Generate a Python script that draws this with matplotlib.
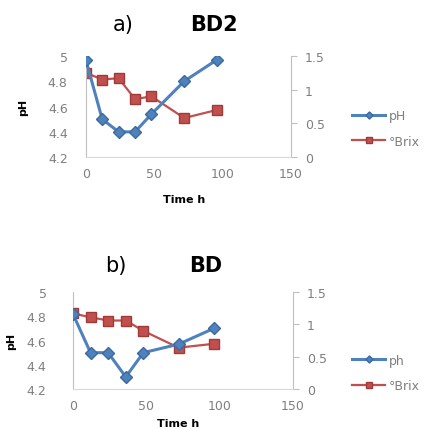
import matplotlib.pyplot as plt

# sampling times (h)
time_h = [0, 12, 24, 36, 48, 72, 96]

# a) BD2
ph_bd2 = [4.97, 4.50, 4.40, 4.40, 4.54, 4.80, 4.97]
brix_bd2 = [1.25, 1.15, 1.17, 0.86, 0.90, 0.58, 0.70]

# b) BD
ph_bd = [4.82, 4.50, 4.50, 4.30, 4.50, 4.57, 4.70]
brix_bd = [1.17, 1.11, 1.06, 1.06, 0.90, 0.64, 0.70]

BLUE = "#4F81BD"
RED = "#C0504D"
GRAY = "#7F7F7F"

fig = plt.figure(figsize=(4.29, 4.31), dpi=100)


def panel(rect, ph, brix, ph_label, letter, name, title_xy, legend_y, lpad, ylab_x, xlab_y):
    ax = fig.add_axes(rect)
    ax2 = ax.twinx()
    ax.plot(time_h, ph, color=BLUE, lw=2.2, marker="D", ms=6,
            mfc=BLUE, mec="#3A6A9E", label=ph_label, zorder=3)
    ax2.plot(time_h, brix, color=RED, lw=1.6, marker="s", ms=7,
             mfc=RED, mec="#A03A38", label="°Brix", zorder=2)
    ax.set_zorder(ax2.get_zorder() + 1)
    ax.patch.set_visible(False)

    ax.set_xlim(0, 150)
    ax.set_ylim(4.2, 5.0)
    ax.set_xticks([0, 50, 100, 150])
    ax.set_yticks([4.2, 4.4, 4.6, 4.8, 5.0])
    ax.set_yticklabels(["4.2", "4.4", "4.6", "4.8", "5"])
    ax2.set_ylim(0, 1.5)
    ax2.set_yticks([0, 0.5, 1.0, 1.5])
    ax2.set_yticklabels(["0", "0.5", "1", "1.5"])

    for a in (ax, ax2):
        for s in a.spines.values():
            s.set_visible(False)
        a.tick_params(labelsize=9, colors=GRAY, length=0, pad=7)
    ax.tick_params(axis="y", pad=lpad)
    ax.spines["left"].set_visible(True)
    ax.spines["left"].set_color("#BFBFBF")
    ax.spines["bottom"].set_visible(True)
    ax.spines["bottom"].set_color("#D9D9D9")
    ax2.spines["right"].set_visible(True)
    ax2.spines["right"].set_color("#BFBFBF")
    ax2.tick_params(axis="y", length=4, color="#BFBFBF", pad=6)

    ax.set_xlabel("Time h", fontsize=8, fontweight="bold")
    ax.xaxis.set_label_coords(0.48, xlab_y)
    ax.set_ylabel("pH", fontsize=8, fontweight="bold")
    ax.yaxis.set_label_coords(ylab_x, 0.5)

    fig.text(title_xy[0], title_xy[1], letter, fontsize=15, ha="center", va="center")
    fig.text(title_xy[0] + 0.21, title_xy[1], name, fontsize=15, fontweight="bold",
             ha="center", va="center")

    h1, l1 = ax.get_legend_handles_labels()
    h2, l2 = ax2.get_legend_handles_labels()
    fig.legend(h1 + h2, l1 + l2, loc="center left", bbox_to_anchor=(0.795, legend_y),
               frameon=False, fontsize=9, labelcolor=GRAY, handlelength=2.6,
               handletextpad=0.3, labelspacing=1.0, markerscale=0.6)


panel([0.200, 0.633, 0.478, 0.235], ph_bd2, brix_bd2, "pH", "a)", "BD2",
      (0.288, 0.942), 0.70, 13, -0.28, -0.36)
panel([0.170, 0.095, 0.513, 0.225], ph_bd, brix_bd, "ph", "b)", "BD",
      (0.27, 0.382), 0.132, 19, -0.26, -0.30)

fig.savefig("out.png", dpi=100)
